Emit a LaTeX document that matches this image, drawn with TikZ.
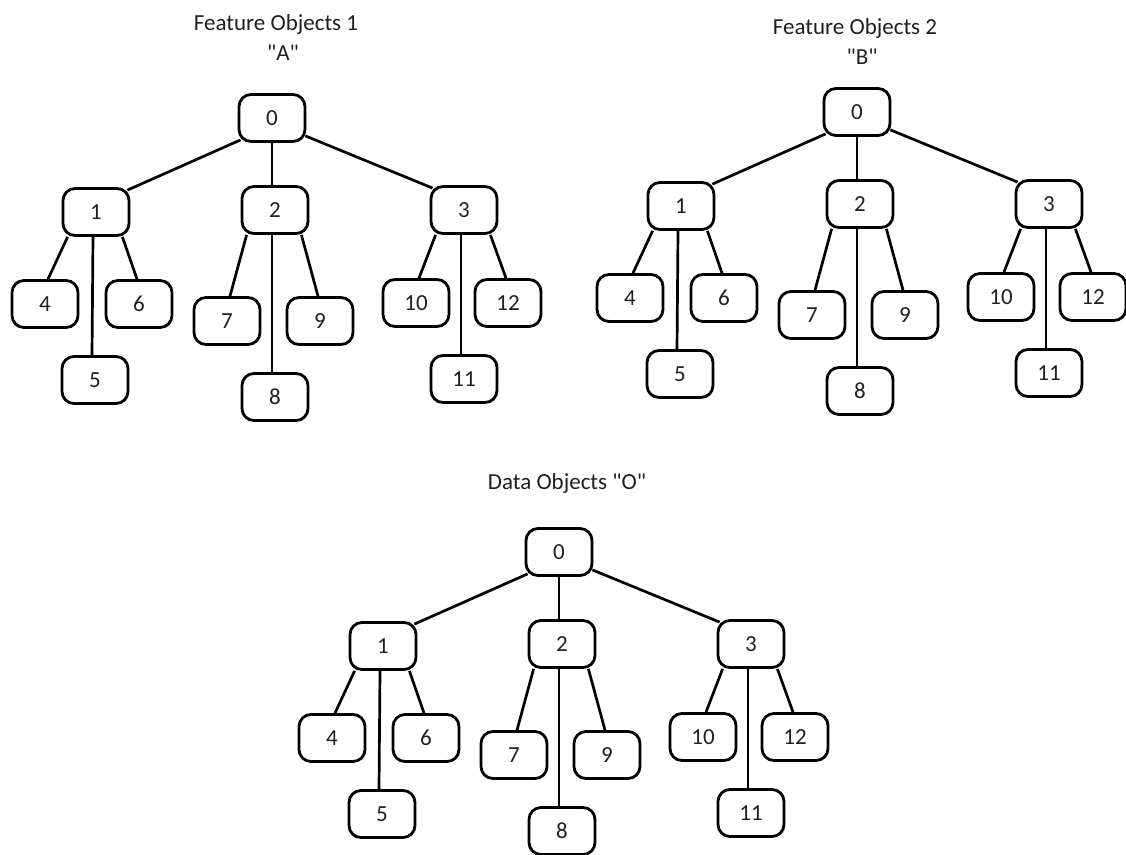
\documentclass[tikz,border=0pt]{standalone}
\usepackage{fontspec}
\setmainfont{Carlito}[Ligatures=TeXOff]
\usetikzlibrary{calc}

\tikzset{
  box/.style={draw, line width=2.8pt, rounded corners=12pt,
    minimum width=66pt, minimum height=47pt, inner sep=0pt,
    font=\fontsize{23}{23}\selectfont, text=black!88},
  link/.style={line width=2.7pt},
  title/.style={align=center, font=\fontsize{23}{30}\selectfont, text=black!88},
}

% One object tree: root 0, three children, three grandchildren each.
% #1 = name prefix, #2/#3 = position of the root
\newcommand{\objtree}[3]{%
\begin{scope}[shift={(#2,#3)}, name prefix=#1-]
  \node[box] (n0)  at (0,0)      {0};
  \node[box] (n1)  at (-176,94)  {1};
  \node[box] (n2)  at (3,92)     {2};
  \node[box] (n3)  at (192,92)   {3};
  \node[box] (n4)  at (-227,186) {4};
  \node[box] (n5)  at (-177,262) {5};
  \node[box] (n6)  at (-133,186) {6};
  \node[box] (n7)  at (-45,203)  {7};
  \node[box] (n8)  at (3,279)    {8};
  \node[box] (n9)  at (48,203)   {9};
  \node[box] (n10) at (144,185)  {10};
  \node[box] (n11) at (192,261)  {11};
  \node[box] (n12) at (236,185)  {12};
  % root links
  \draw[link] ($(n0.south west)+(3,-3)$) -- ($(n1.north east)+(-3,3)$);
  \draw[link] (n0.south) -- ($(n2.north)+(-3,0)$);
  \draw[link] ($(n0.south east)+(-1,-7)$) -- ($(n3.north west)+(3,3)$);
  % leaf links
  \foreach \p/\l/\m/\r in {1/4/5/6, 2/7/8/9, 3/10/11/12}{
    \draw[link] ($(n\p.south west)+(6,0)$) -- ($(n\l.north)+(3,0)$);
    \draw[link] ($(n\p.south)+(-3,0)$) -- ($(n\m.north)+(-3,0)$);
    \draw[link] ($(n\p.south east)+(-8,0)$) -- ($(n\r.north)+(-2,0)$);
  }
\end{scope}}

\begin{document}
\begin{tikzpicture}[x=1pt, y=-1pt]
  \useasboundingbox (0,0) rectangle (1126,854);
  \node[title] (titleA) at (276,38) {Feature Objects 1\\\hspace*{14pt}"A"};
  \node[title] (titleB) at (855,42) {Feature Objects 2\\\hspace*{14pt}"B"};
  \node[title] (titleC) at (567,483) {Data Objects "O"};
  \objtree{A}{272}{118}
  \objtree{B}{857}{112}
  \objtree{C}{559}{552}
\end{tikzpicture}
\end{document}
